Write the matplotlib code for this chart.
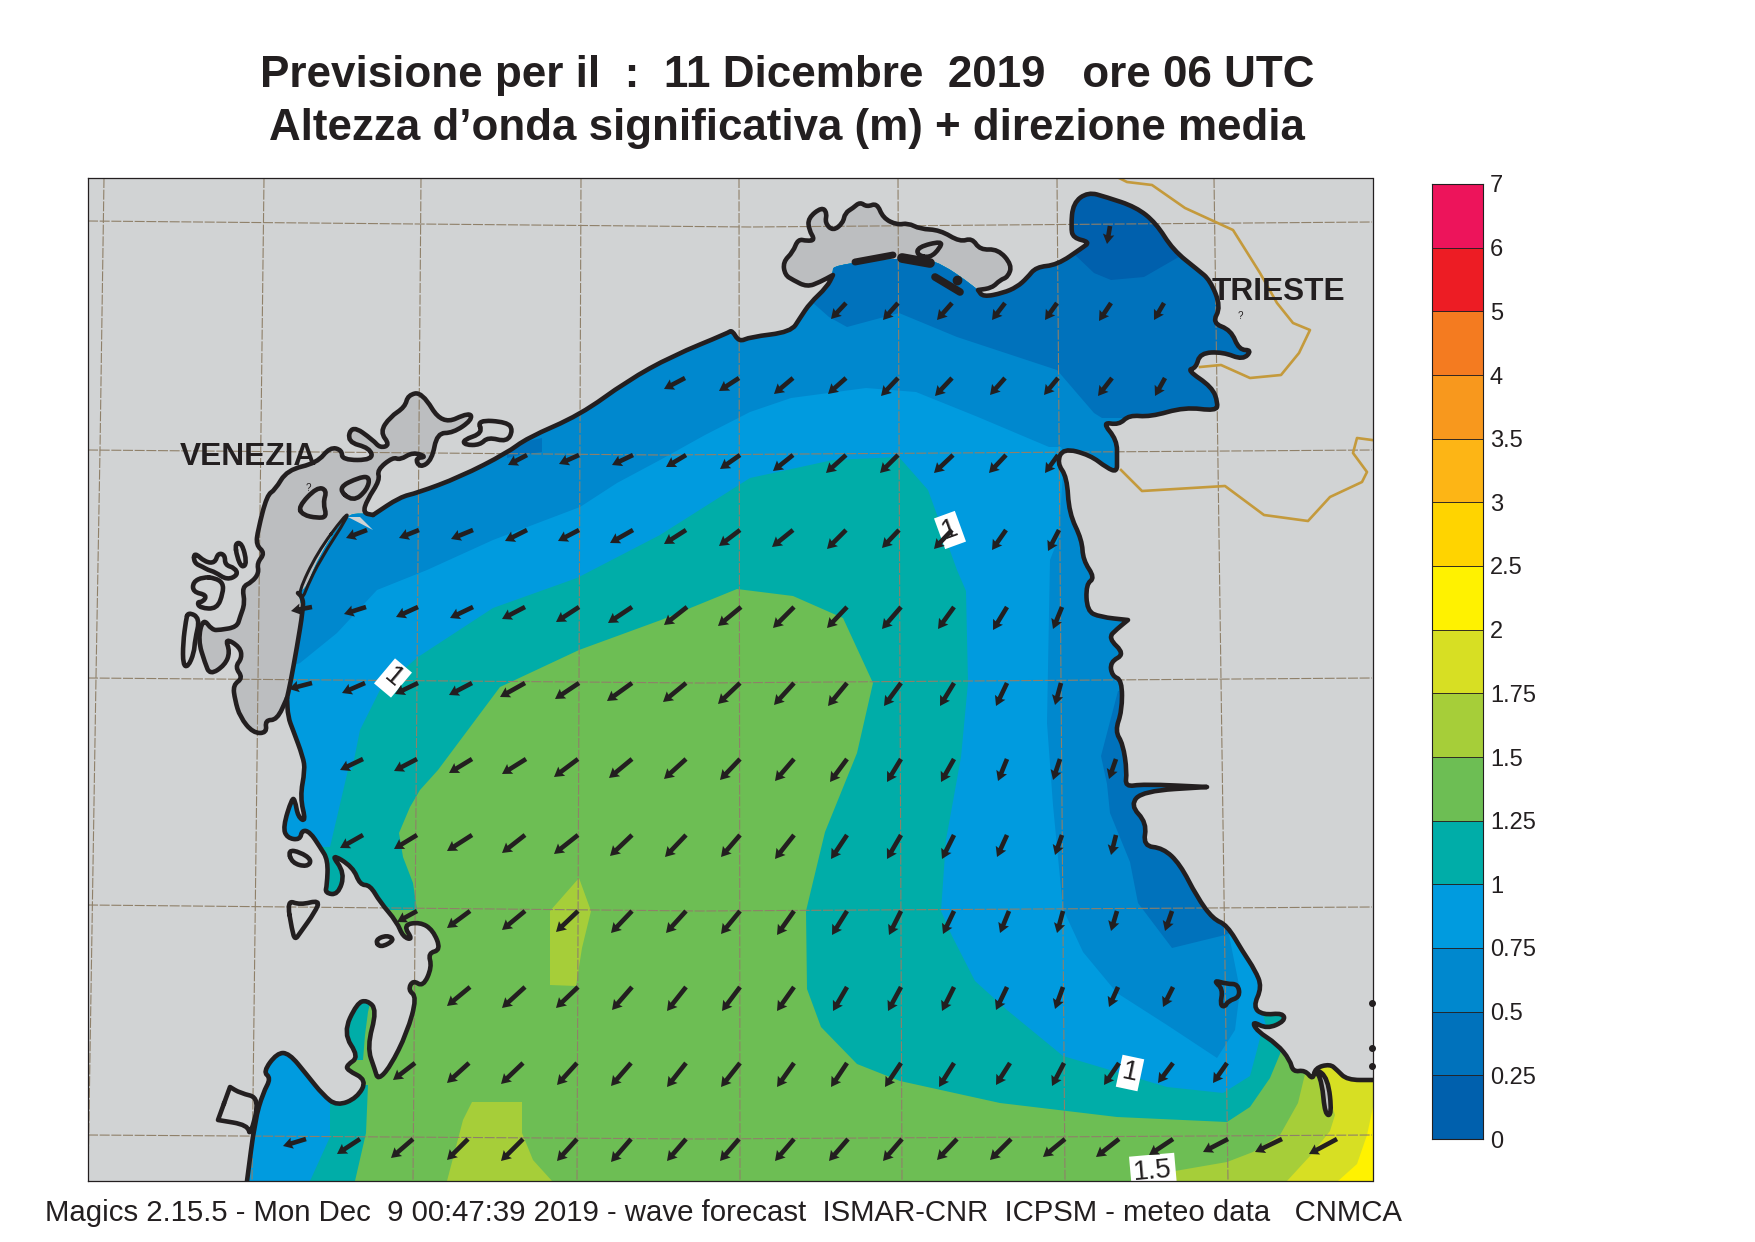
import matplotlib
matplotlib.use("Agg")
import matplotlib.pyplot as plt
from matplotlib.patches import Polygon, PathPatch
from matplotlib.path import Path

plt.rcParams['font.family'] = ['Liberation Sans', 'DejaVu Sans']

W, H = 1755, 1242
LEFT, RIGHT, TOP, BOTTOM = 88, 1372.5, 177.5, 1181

# ---------- colour levels ----------
level_labels = ['0', '0.25', '0.5', '0.75', '1', '1.25', '1.5', '1.75', '2', '2.5', '3', '3.5', '4', '5', '6', '7']
level_colors = ['#0060AD', '#0072BC', '#0088CE', '#009BDF', '#00ADA8', '#6DBE54', '#A6CE39', '#D7DF23',
                '#FFF200', '#FFD400', '#FDB515', '#F8981D', '#F47B20', '#ED1C24', '#ED145B']
LAND = '#D1D3D4'
LAGOON = '#BCBEC0'
INK = '#231F20'
GRID = '#8F8069'
BORDER = '#C49A3C'

# ---------- coast ----------
coast_south = [(247,1181),(247,1181),(255,1120),(263,1093),(271,1078),(263,1072),(277,1053),(289,1053),(307,1075),(323,1095),
    (337,1106),(357,1098),(367,1080),(347,1070),(347,1065),(359,1057),(343,1033),(357,1003),(367,1000),(377,1010),
    (367,1047),(375,1070),(378,1080),(390,1067),(407,1033),(417,997),(408,990),(413,980),(423,987),(432,967),
    (428,953),(441,950),(433,930),(420,922),(403,925),(413,940),(403,937),(397,922),(380,902),(370,885),(360,885),
    (353,867),(330,853),(345,873),(338,895),(325,893),(327,885),(328,860),(320,847),(310,832),(302,830),(300,840),
    (287,838),(283,827),(292,798),(295,800),(298,817),(306,822),(300,797),(305,770),(303,757),(293,730),(288,717),(287,698)]
venice_outline = [(287,698),(277,720),(265,720),(267,733),(253,733),(240,717),(235,700),(233,685),(243,678),(235,667),
    (242,658),(240,647),(225,638),(230,652),(225,665),(210,675),(205,663),(198,640),(203,618),(212,630),(220,630),(237,627),
    (240,617),(245,603),(242,587),(252,582),(259,573),(257,563),(265,553),(256,545),(258,530),(267,495),(275,490),(287,470),
    (317,463),(330,447),(342,450),(342,460),(373,460),(370,448),(347,442),(352,425),(373,440),(380,448),(390,445),
    (380,432),(390,417),(405,407),(408,395),(422,392),(442,425),(470,412),(472,420),(453,433),(437,433),(432,460),
    (420,468),(415,458),(427,457),(413,452),(400,460),(393,457),(377,470),(380,480),(367,500),(363,513),(373,515)]
barrier = [(287,698),(290,685),(297,647),(303,610),(303,598),(298,593)]
sea_barrier = [(290,685),(297,647),(303,610),(298,593),(307,587),(317,560),(345,515),(363,513)]
spit = [(345,515),(349,515),(320,560),(307,587),(303,598),(298,593),(317,553)]
coast_north = [(373,515),(400,497),(417,493),(460,477),(507,453),(527,438),(580,415),(627,381),(672,356),(728,333),
    (732,330),(739,342),(750,337),(791,332),(800,318),(810,303),(827,287)]
marano_coast = [(833,275),(833,275),(820,282),(807,287),(793,280),(785,275),(783,262),(793,252),(798,239),(807,241),(815,240),
    (809,230),(808,218),(822,207),(827,213),(825,223),(833,231),(843,223),(845,213),(853,208),(860,202),(867,207),(877,203),
    (883,218),(897,225),(908,223),(920,229),(940,230),(960,242),(972,238),(980,250),(998,249),(1012,265),(1008,277),
    (1000,280),(992,288),(978,290),(978,290)]
marano_sea = [(833,273),(833,265),(900,258),(933,258),(977,288)]
coast_east = [(983,297),(1003,293),(1017,287),(1027,278),(1036,267),(1057,265),(1082,248),(1090,242),(1073,238),(1071,227),(1073,203),
    (1088,192),(1106,197),(1136,207),(1156,223),(1173,250),(1198,270),(1210,280),(1221,307),(1212,323),(1231,330),
    (1239,350),(1252,350),(1243,360),(1223,352),(1200,353),(1196,368),(1187,370),(1212,387),(1218,403),(1216,411),
    (1185,407),(1150,417),(1129,415),(1119,425),(1102,422),(1117,440),(1117,460),(1117,472),(1107,468),(1090,455),
    (1063,448),(1057,463),(1067,477),(1069,513),(1082,540),(1083,560),(1095,578),(1086,584),(1087,611),(1100,617),
    (1128,620),(1128,620),(1117,629),(1108,638),(1125,654),(1110,662),(1112,676),(1122,680),(1122,711),(1115,731),(1123,744),
    (1127,772),(1125,787),(1143,784),(1207,787),(1207,787),(1143,791),(1130,805),(1147,823),(1143,846),(1163,848),(1180,864),
    (1197,897),(1213,919),(1227,925),(1243,952),(1255,970),(1262,987),(1253,1007),(1263,1015),(1283,1013),(1285,1021),
    (1267,1029),(1252,1021),(1257,1031),(1277,1044),(1290,1060),(1293,1072),(1305,1070),(1313,1080),(1315,1068),
    (1330,1064),(1337,1070),(1347,1080),(1373,1080),(1373,1080)]
sea_corners = [(1373,1181),(1373,1181)]

# ---------- islands and lagoon details ----------
islands = [
    [(298,507),(317,487),(327,490),(323,503),(327,517),(317,518),(303,515)],
    [(337,488),(360,477),(370,477),(367,490),(353,502)],
    [(477,420),(507,422),(513,430),(507,442),(488,437),(480,445),(465,445),(463,440),(483,433)],
    [(235,543),(242,543),(247,563),(242,568),(237,557)],
    [(194,552),(205,562),(215,563),(218,553),(225,555),(225,565),(235,568),(238,575),(227,580),(215,572),(208,570),(203,567),(194,563)],
    [(203,577),(193,582),(193,592),(207,595),(203,602),(197,602),(200,608),(217,609),(223,593),(223,583),(215,578)],
    [(188,612),(200,618),(195,640),(194,653),(188,667),(183,665),(183,643),(186,620)],
    [(288,850),(300,852),(312,860),(307,867),(292,863)],
    [(287,900),(300,905),(320,900),(315,912),(300,933),(295,940),(292,930)],
    [(375,940),(387,935),(395,940),(380,948)],
    [(230,1087),(230,1087),(240,1093),(260,1098),(250,1137),(248,1125),(218,1120),(218,1120)],
    [(1213,980),(1227,984),(1238,984),(1240,997),(1228,1001),(1225,1007),(1220,1005),(1223,989)],
    [(917,255),(918,247),(942,241),(940,248),(930,258)],
]
channel = [(1315,1068),(1328,1078),(1332,1115),(1325,1115),(1322,1082)]
thin_bars = [[(855,262),(893,255)]]
thick_bars = [[(902,258),(930,263)]]
mid_bars = [[(935,277),(960,292)]]
shoal_dots = [(957,280)]
frame_specks = [(1372,1003),(1372,1048),(1372,1066)]
notch = [(348,517),(360,517),(373,530)]

# ---------- wave height bands (level index, outline) ----------
band_teal = [(417,910),(413,883),(403,857),(399,833),(410,807),(420,790),(438,770),(500,687),(579,650),(661,620),
    (737,589),(793,596),(843,618),(873,683),(857,753),(825,832),(806,911),(807,989),(821,1027),(857,1064),(900,1081),
    (1000,1103),(1117,1117),(1227,1122),(1250,1107),(1270,1078),(1280,1054),(1283,1042),(1300,1000),(1400,150),(80,150),(80,910)]
band_teal_sw = [(368,1085),(366,1133),(355,1181),(200,1181),(200,1085)]
band_teal_lagoon = [(335,995),(372,995),(368,1012),(365,1035),(363,1060),(335,1060)]
band_teal_pool = [(1263,1015),(1283,1013),(1285,1021),(1267,1029)]
band_lt_blue = [(330,847),(348,770),(352,770),(360,730),(380,690),(418,657),(493,608),(577,578),(660,535),(750,478),
    (833,460),(899,457),(928,490),(957,570),(966,591),(968,683),(961,757),(946,840),(941,911),(952,936),(975,981),
    (1007,1010),(1063,1056),(1167,1087),(1223,1093),(1250,1076),(1257,1050),(1262,1030),(1300,1000),(1400,150),(100,150),(100,847)]
band_lt_blue_sw = [(330,1090),(330,1137),(310,1181),(200,1181),(200,1040),(300,1040)]
band_mid_blue_n = [(250,680),(300,663),(337,633),(377,590),(427,570),(493,540),(580,507),(617,483),(660,460),(705,435),
    (750,412),(791,398),(866,388),(916,392),(978,417),(1049,447),(1061,447),(1070,470),(1400,470),(1400,150),(100,150),(100,680)]
band_mid_blue_e = [(1063,470),(1059,537),(1050,560),(1047,723),(1053,805),(1063,909),(1083,952),(1117,993),(1167,1025),
    (1217,1058),(1235,1030),(1240,990),(1227,925),(1300,900),(1300,470)]
band_dk_blue_n = [(790,300),(812,302),(829,317),(847,327),(899,313),(957,337),(1057,370),(1094,413),(1102,418),(1300,418),(1400,150),(800,150)]
band_dk_blue_e = [(1118,691),(1101,756),(1107,784),(1110,813),(1130,862),(1138,903),(1172,948),(1225,935),(1300,900),(1300,680)]
band_dk_blue_patch = [(523,442),(542,438),(542,452),(520,455),(507,458),(507,445)]
band_dk_blue_inlet = [(1142,782),(1167,780),(1197,782),(1167,785),(1143,786)]
band_deep = [(1073,253),(1094,273),(1111,280),(1144,277),(1177,258),(1300,200),(1100,150),(1050,180)]
band_lime_1 = [(1315,1060),(1305,1074),(1298,1103),(1280,1135),(1253,1152),(1227,1162),(1175,1171),(1132,1181),(1400,1190),(1400,1040)]
band_lime_2 = [(579,878),(591,911),(582,948),(576,986),(550,985),(550,911)]
band_lime_3 = [(472,1102),(522,1102),(522,1133),(533,1160),(552,1181),(447,1181),(463,1120)]
band_yg = [(1317,1060),(1335,1115),(1330,1131),(1310,1156),(1287,1181),(1400,1190),(1400,1040)]
band_yellow = [(1373,1107),(1367,1135),(1357,1164),(1338,1181),(1400,1190),(1400,1100)]
bands = [(4, band_teal), (4, band_teal_sw), (3, band_lt_blue), (3, band_lt_blue_sw), (4, band_teal_lagoon), (4, band_teal_pool),
         (2, band_mid_blue_n), (2, band_mid_blue_e), (1, band_dk_blue_n), (1, band_dk_blue_e), (1, band_dk_blue_patch),
         (1, band_dk_blue_inlet), (0, band_deep), (6, band_lime_1), (6, band_lime_2), (6, band_lime_3), (7, band_yg), (8, band_yellow)]

# ---------- grid and borders ----------
grid_h = [[(88,221),(750,227),(1372,222)],[(88,450),(660,455),(1372,450)],[(88,678),(700,683),(1372,678)],
          [(88,905),(700,911),(1372,907)],[(88,1135),(700,1139),(1372,1135)]]
grid_v = [[(104,178),(100,450),(96,677),(88,1181)],[(264,178),(252,1181)],[(421,178),(413,1181)],[(581,178),(577,1181)],
          [(739,178),(740,1181)],[(898,178),(902,1181)],[(1057,178),(1065,1181)],[(1214,178),(1228,1181)]]
border_1 = [(1117,177),(1127,182),(1152,185),(1185,208),(1233,230),(1260,273),(1277,303),(1293,323),(1310,330),(1299,353),
            (1281,375),(1250,378),(1221,365),(1200,367)]
border_2 = [(1121,470),(1142,491),(1225,486),(1264,515),(1308,521),(1330,497),(1362,482),(1367,472),(1353,453),(1357,438),(1372,440)]

# ---------- wave direction arrows: row y, tail x, dx, dy ----------
arrow_rows = [
 (226, [1110], [-3], [18]),
 (303, [846,898,952,1005,1057,1111,1164], [-15,-15,-15,-13,-12,-12,-10], [16,17,17,17,17,18,17]),
 (378, [685,739,793,846,898,952,1005,1058,1112,1165], [-21,-20,-19,-18,-17,-17,-15,-14,-14,-10], [11,13,16,16,18,18,17,17,18,18]),
 (455, [527,579,633,686,740,793,846,898,953,1006,1058], [-19,-20,-21,-20,-20,-20,-20,-18,-19,-17,-13], [10,9,10,12,14,16,18,18,18,18,18]),
 (530, [367,419,473,527,579,633,686,740,793,846,899,952,1006,1059], [-21,-20,-22,-22,-21,-23,-22,-21,-21,-19,-17,-18,-14,-11], [8,8,9,11,11,13,14,16,17,19,18,19,20,21]),
 (607, [312,366,418,473,525,579,632,687,741,794,847,901,954,1007,1062], [-21,-22,-22,-23,-23,-23,-24,-23,-23,-21,-20,-19,-16,-14,-9], [4,7,10,11,12,15,16,18,19,21,21,22,22,23,22]),
 (683, [312,365,418,472,525,579,632,686,740,794,847,901,954,1007,1061], [-23,-23,-23,-23,-25,-24,-25,-23,-22,-20,-19,-17,-14,-11,-6], [6,10,11,12,14,16,18,19,21,22,23,23,23,23,22]),
 (759, [363,417,472,526,578,632,686,740,794,847,901,954,1007,1060,1116], [-23,-23,-23,-24,-24,-23,-22,-20,-19,-17,-14,-13,-9,-7,-7], [11,12,14,15,18,19,20,21,22,23,23,23,22,21,20]),
 (835, [363,417,472,525,578,632,686,740,794,847,901,954,1007,1062,1116], [-23,-23,-25,-23,-24,-22,-21,-19,-19,-16,-14,-12,-10,-7,-5], [13,14,16,18,19,21,22,22,24,24,24,24,22,20,20]),
 (911, [417,470,525,578,632,686,740,794,847,901,954,1009,1063,1117,1172], [-20,-23,-23,-22,-21,-20,-19,-17,-15,-12,-11,-9,-6,-6,-7], [11,17,19,21,22,22,23,24,24,24,23,22,22,20,20]),
 (987, [470,525,578,632,686,740,794,847,901,954,1007,1063,1118,1173], [-23,-23,-22,-20,-19,-18,-17,-14,-13,-12,-11,-8,-9,-10], [19,21,21,23,24,24,24,24,24,24,23,22,20,20]),
 (1063, [415,469,523,577,631,686,740,794,847,901,954,1010,1064,1119,1173,1227], [-22,-22,-22,-20,-20,-19,-19,-17,-16,-16,-15,-14,-12,-15,-15,-14], [17,20,21,22,23,24,24,24,24,24,24,22,23,22,20,20]),
 (1139, [306,360,413,468,523,577,631,686,739,794,848,902,957,1011,1065,1119,1173,1228,1282,1337], [-23,-23,-22,-21,-22,-20,-20,-19,-19,-19,-19,-19,-20,-21,-22,-23,-24,-25,-27,-28], [7,15,19,21,22,22,23,22,22,22,22,22,21,21,18,18,16,13,13,15]),
]
# (x, y, text, rotation)
contour_labels = [(393,678,'1',-40),(950,530,'1',20),(1130,1073,'1',-12),(1153,1171,'1.5',5)]

title_1 = 'Previsione per il  :  11 Dicembre  2019   ore 06 UTC'
title_2 = 'Altezza d\u2019onda significativa (m) + direzione media'
footer = 'Magics 2.15.5 - Mon Dec  9 00:47:39 2019 - wave forecast  ISMAR-CNR  ICPSM - meteo data   CNMCA'


def rounded(pts, closed=False):
    """Path through the traced vertices with rounded corners."""
    mid = lambda a, b: ((a[0] + b[0]) / 2, (a[1] + b[1]) / 2)
    if closed:
        v = [mid(pts[-1], pts[0])]
        c = [Path.MOVETO]
        n = len(pts)
        for i in range(n):
            v += [pts[i], mid(pts[i], pts[(i + 1) % n])]
            c += [Path.CURVE3, Path.CURVE3]
        return Path(v, c)
    v = [pts[0], mid(pts[0], pts[1])]
    c = [Path.MOVETO, Path.LINETO]
    for i in range(1, len(pts) - 1):
        v += [pts[i], mid(pts[i], pts[i + 1])]
        c += [Path.CURVE3, Path.CURVE3]
    v.append(pts[-1])
    c.append(Path.LINETO)
    return Path(v, c)


# ---------- figure ----------
fig = plt.figure(figsize=(W/100, H/100), dpi=100, facecolor='white')
ax = fig.add_axes([LEFT/W, 1-BOTTOM/H, (RIGHT-LEFT)/W, (BOTTOM-TOP)/H])
ax.set_xlim(LEFT, RIGHT)
ax.set_ylim(BOTTOM, TOP)
ax.set_xticks([]); ax.set_yticks([])
ax.set_facecolor(LAND)
for s in ax.spines.values():
    s.set_linewidth(0.9); s.set_color(INK); s.set_zorder(20)

# lagoons
ax.add_patch(PathPatch(rounded(venice_outline + sea_barrier[::-1], True), fc=LAGOON, ec='none', zorder=1))
ax.add_patch(PathPatch(rounded(marano_coast + marano_sea[::-1], True), fc=LAGOON, ec='none', zorder=1))

# sea and its bands
sea_pts = coast_south + sea_barrier + coast_north + marano_sea + coast_east + sea_corners
sea = PathPatch(rounded(sea_pts, True), fc=level_colors[5], ec='none', zorder=2)
ax.add_patch(sea)
for z, (lvl, pts) in enumerate(bands):
    p = Polygon(pts, closed=True, fc=level_colors[lvl], ec='none', zorder=3 + z*0.01)
    ax.add_patch(p)
    p.set_clip_path(sea)
ax.add_patch(Polygon(notch, closed=True, fc=LAND, ec='none', zorder=4))

# grid
for line in grid_h + grid_v:
    xs, ys = zip(*line)
    ax.plot(xs, ys, color=GRID, lw=0.8, ls=(0, (9, 1.5)), zorder=5)

# borders
for line in (border_1, border_2):
    xs, ys = zip(*line)
    ax.plot(xs, ys, color=BORDER, lw=1.9, zorder=5.5, solid_joinstyle='round')


# coast
def stroke(pts, lw=3.3, close=False):
    ax.add_patch(PathPatch(rounded(pts, close), fc='none', ec=INK, lw=lw, zorder=6, capstyle='round', joinstyle='round'))


ax.add_patch(PathPatch(rounded(channel, True), fc=LAGOON, ec='none', zorder=5.8))
stroke(coast_south)
stroke(venice_outline)
stroke(barrier)
stroke(spit, lw=2.2, close=True)
stroke(coast_north + marano_coast + coast_east)
stroke(channel, close=True)
for isl in islands:
    stroke(isl, close=True)
for bar in thin_bars:
    stroke(bar, lw=5)
for bar in thick_bars:
    stroke(bar, lw=7)
for bar in mid_bars:
    stroke(bar, lw=5.5)
ax.plot(*zip(*shoal_dots), ls='none', marker='o', ms=6, color=INK, zorder=6)
ax.plot(*zip(*frame_specks), ls='none', marker='o', ms=4, color=INK, zorder=6, clip_on=False)

# contour labels
for x, y, s, rot in contour_labels:
    ax.text(x, y, s, fontsize=20, rotation=rot, ha='center', va='center', color=INK, zorder=7, clip_on=True,
            rotation_mode='anchor', bbox=dict(fc='white', ec='none', pad=2.5))

# arrows
for y, xs, dxs, dys in arrow_rows:
    ax.quiver(xs, [y]*len(xs), dxs, dys, angles='xy', scale_units='xy', scale=1, units='xy', width=4.6,
              headwidth=2.5, headlength=2.1, headaxislength=1.9, color=INK, pivot='tail', zorder=8)

# place names
ax.text(180, 465, 'VENEZIA', fontsize=22.8, fontweight='bold', color=INK, ha='left', va='baseline', zorder=9, clip_on=False)
ax.text(1212, 300, 'TRIESTE', fontsize=22.8, fontweight='bold', color=INK, ha='left', va='baseline', zorder=9, clip_on=False)
ax.text(308, 488, '?', fontsize=7, color=INK, ha='center', va='center', zorder=9)
ax.text(1240, 316, '?', fontsize=7, color=INK, ha='center', va='center', zorder=9)

# titles and footer
ax.text(787, 87, title_1, fontsize=31.7, fontweight='bold', color=INK, ha='center', va='baseline', clip_on=False)
ax.text(787, 140, title_2, fontsize=31.6, fontweight='bold', color=INK, ha='center', va='baseline', clip_on=False)
ax.text(45, 1221, footer, fontsize=21.2, color=INK, ha='left', va='baseline', clip_on=False)

# colour bar
cax = fig.add_axes([1432/W, 1-1139/H, 51/W, (1139-184)/H])
cax.barh(range(len(level_colors)), [1]*len(level_colors), height=1, left=0, align='edge',
         color=level_colors, edgecolor=INK, linewidth=0.6)
cax.set_xlim(0, 1); cax.set_ylim(0, len(level_colors))
cax.set_xticks([])
cax.set_yticks(range(len(level_labels)))
cax.set_yticklabels(level_labels, fontsize=17, color=INK)
cax.yaxis.tick_right()
cax.tick_params(axis='y', length=0, pad=5)
for s in cax.spines.values():
    s.set_linewidth(0.8); s.set_color(INK)

fig.savefig('out.png', dpi=100)
